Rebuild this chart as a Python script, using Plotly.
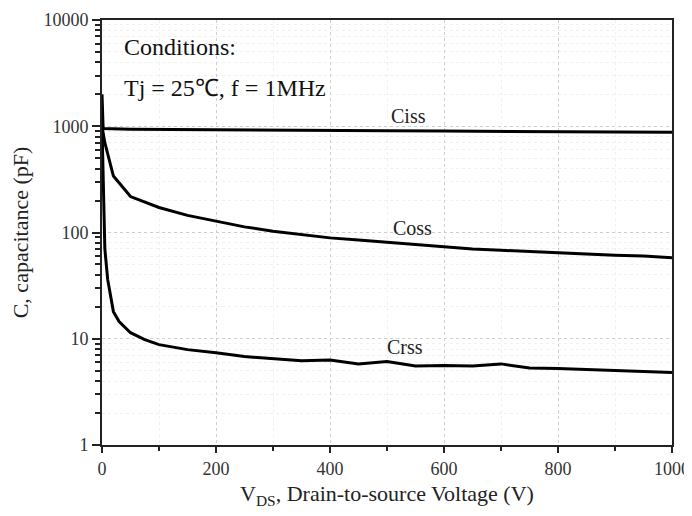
import plotly.graph_objects as go

# ---- data ----
v_ciss = [0, 2, 50, 100, 200, 300, 400, 500, 600, 700, 800, 900, 1000]
ciss = [2000, 950, 935, 930, 925, 918, 912, 905, 900, 895, 890, 886, 880]

v_coss = [0, 2, 5, 10, 20, 50, 100, 150, 200, 250, 300, 350, 400, 450,
          500, 550, 600, 650, 700, 750, 800, 850, 900, 950, 1000]
coss = [1000, 850, 700, 550, 340, 218, 172, 145, 127, 113, 103, 95, 89, 85,
        81, 77, 73, 70, 68, 66, 64, 62, 61, 60, 58]

v_crss = [0, 2, 5, 10, 20, 30, 50, 75, 100, 150, 200, 250, 300, 350, 400,
          450, 500, 550, 600, 650, 700, 750, 800, 850, 900, 950, 1000]
crss = [1000, 250, 70, 36, 18, 14.5, 11.4, 9.8, 8.8, 7.9, 7.4, 6.8, 6.5, 6.2,
        6.3, 5.8, 6.1, 5.55, 5.6, 5.55, 5.8, 5.3, 5.25, 5.15, 5.0, 4.9, 4.8]

x_ticks = [0, 200, 400, 600, 800, 1000]
y_ticks = [1, 10, 100, 1000, 10000]
y_ticktext = ["1", "10", "100", "1000", "10000"]

FONT = "Liberation Serif"

fig = go.Figure()
for xs, ys, name in [(v_ciss, ciss, "Ciss"), (v_coss, coss, "Coss"), (v_crss, crss, "Crss")]:
    fig.add_trace(go.Scatter(x=xs, y=ys, mode="lines", name=name,
                             line=dict(color="black", width=3), showlegend=False))

# curve labels
labels = [("Ciss", 537, 3.097), ("Coss", 544, 2.042), ("Crss", 532, 0.922)]
for t, x, y in labels:
    fig.add_annotation(x=x, y=y, text=t, showarrow=False,
                       font=dict(family=FONT, size=20, color="#222"))

fig.add_annotation(x=35, y=3.746, text="Conditions:", showarrow=False, xanchor="left",
                   font=dict(family=FONT, size=24, color="#111"))
fig.add_annotation(x=35, y=3.36, text="Tj = 25℃, f = 1MHz", showarrow=False, xanchor="left",
                   font=dict(family=FONT, size=24, color="#111"))

fig.update_layout(
    width=684, height=508,
    margin=dict(l=94, r=20, t=12, b=71),
    paper_bgcolor="white", plot_bgcolor="white",
    font=dict(family=FONT, color="#222"),
)
fig.update_xaxes(
    range=[0, 1000], tickvals=x_ticks, ticks="outside", ticklen=6, tickwidth=1.5,
    tickcolor="#222", showline=True, linecolor="#222", linewidth=2, mirror=True,
    showgrid=True, gridcolor="#cfcfcf", griddash="dot", gridwidth=1, zeroline=False,
    tickfont=dict(size=18, family=FONT, color="#333"), automargin=False,
    minor=dict(dtick=100, ticks="outside", ticklen=4, tickwidth=1.5, tickcolor="#222",
               showgrid=True, gridcolor="#f0f0f0", griddash="dot"),
    title=dict(text="V<sub>DS</sub>, Drain-to-source Voltage (V)",
               font=dict(size=22, family=FONT, color="#222"), standoff=8),
)
fig.update_yaxes(
    type="log", range=[0, 4], tickmode="array", tickvals=y_ticks, ticktext=y_ticktext,
    ticks="outside", ticklen=8, tickwidth=1.5, tickcolor="#222",
    showline=True, linecolor="#222", linewidth=2, mirror=True,
    showgrid=True, gridcolor="#cfcfcf", griddash="dot", gridwidth=1, zeroline=False,
    tickfont=dict(size=18, family=FONT, color="#333"), automargin=False,
    minor=dict(dtick="D1", ticks="outside", ticklen=5, tickwidth=1.5, tickcolor="#222",
               showgrid=True, gridcolor="#f0f0f0", griddash="dot"),
    title=dict(text="C, capacitance (pF)", font=dict(size=22, family=FONT, color="#222"),
               standoff=10),
)

fig.write_html("out.html")
